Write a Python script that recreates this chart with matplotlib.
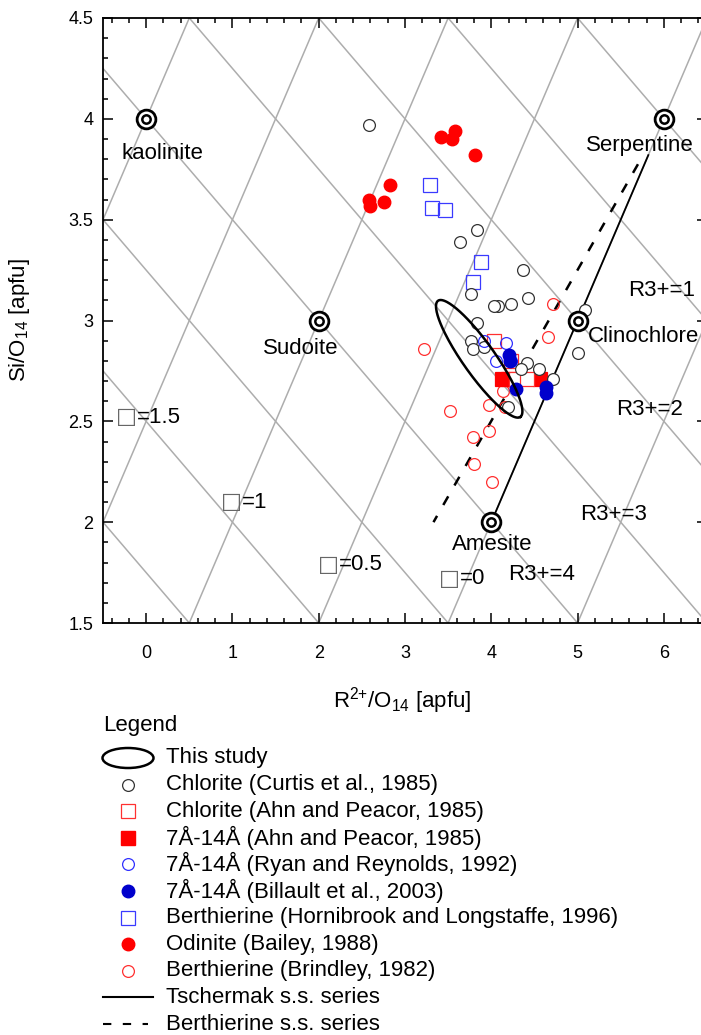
import numpy as np
import matplotlib
matplotlib.use("Agg")
import matplotlib.pyplot as plt
from matplotlib.patches import Ellipse
from matplotlib.ticker import MultipleLocator, FormatStrFormatter

plt.rcParams['font.family'] = ['Liberation Sans', 'DejaVu Sans']
plt.rcParams['mathtext.default'] = 'regular'

# ---- data (R2+/O14, Si/O14) ----
curtis_x = [2.58, 3.84, 3.64, 4.37, 4.43, 4.23, 4.08, 4.03, 3.76, 5.09,
            5.01, 3.84, 3.76, 3.79, 3.92, 4.41, 4.55, 4.72, 4.19, 4.35]
curtis_y = [3.97, 3.45, 3.39, 3.25, 3.11, 3.08, 3.07, 3.07, 3.13, 3.05,
            2.84, 2.99, 2.90, 2.86, 2.87, 2.79, 2.76, 2.71, 2.57, 2.76]
ahn_chl_x = [4.03, 4.23, 4.29, 4.41]
ahn_chl_y = [2.90, 2.80, 2.71, 2.71]
ahn_714_x = [4.12, 4.19, 4.56]
ahn_714_y = [2.71, 2.71, 2.71]
ryan_x = [3.91, 4.17, 4.06, 4.23]
ryan_y = [2.90, 2.89, 2.80, 2.80]
billault_x = [4.20, 4.22, 4.29, 4.63, 4.63]
billault_y = [2.83, 2.80, 2.66, 2.67, 2.64]
hornibrook_x = [3.29, 3.31, 3.46, 3.88, 3.79]
hornibrook_y = [3.67, 3.56, 3.55, 3.29, 3.19]
odinite_x = [3.42, 3.54, 3.58, 3.81, 2.585, 2.60, 2.76, 2.83]
odinite_y = [3.91, 3.90, 3.94, 3.82, 3.60, 3.57, 3.59, 3.67]
brindley_x = [3.22, 4.71, 4.66, 3.52, 3.97, 4.16, 4.13, 3.79, 3.97, 3.80, 4.01]
brindley_y = [2.86, 3.08, 2.92, 2.55, 2.58, 2.57, 2.65, 2.42, 2.45, 2.29, 2.20]

# end members
em_names = ['kaolinite', 'Sudoite', 'Serpentine', 'Clinochlore', 'Amesite']
em_x = [0, 2, 6, 5, 4]
em_y = [4, 3, 4, 3, 2]
em_label_x = [0.19, 1.79, 5.72, 5.76, 4.01]
em_label_y = [3.83, 2.86, 3.87, 2.92, 1.89]

# reference line families
r3_levels = [-1, 0, 1, 2, 3, 4, 5, 6, 7]          # Si = 7 - 0.75 R3 - 0.5 R2
vac_levels = [-0.5, 0, 0.5, 1, 1.5, 2]            # Si = R2 - 2 + 3 vac
r3_labels = ['R3+=1', 'R3+=2', 'R3+=3', 'R3+=4']
r3_label_x = [5.97, 5.84, 5.42, 4.58]
r3_label_y = [3.15, 2.56, 2.04, 1.74]
vac_labels = ['=1.5', '=1', '=0.5', '=0']
vac_label_x = [-0.105, 1.105, 2.23, 3.64]
vac_label_y = [2.52, 2.10, 1.79, 1.72]

# series lines
tsch_x = [5.82, 4.0]
tsch_y = [3.82, 2.0]
berth_x = [5.70, 3.33]
berth_y = [3.775, 2.0]

# this study ellipse
ell_c = (3.86, 2.81)
ell_u = (0.477, -0.288)
ell_v = (-0.152, -0.046)

W, H = 701, 1035
fig = plt.figure(figsize=(W / 100, H / 100), dpi=100)
ax = fig.add_axes([103 / W, 1 - 623 / H, 604 / W, 605 / H])

xs = np.array([-0.5, 6.5])
for r in r3_levels:
    ax.plot(xs, 7 - 0.75 * r - 0.5 * xs, color='#adadad', lw=1.1, zorder=1)
for v in vac_levels:
    ax.plot(xs, xs - 2 + 3 * v, color='#adadad', lw=1.1, zorder=1)

ax.plot(tsch_x, tsch_y, color='black', lw=1.3, zorder=2)
ax.plot(berth_x, berth_y, color='black', lw=1.8, dashes=(4, 5), zorder=2)

ms_c = 8.5
ax.plot(brindley_x, brindley_y, 'o', ms=ms_c, mfc='none', mec='#ff3030', mew=0.9, zorder=3)
ax.plot(hornibrook_x, hornibrook_y, 's', ms=10.5, mfc='none', mec='#3a3aff', mew=0.9, zorder=3)
ax.plot(ahn_714_x, ahn_714_y, 's', ms=10.5, mfc='#ff0000', mec='#ff0000', mew=0.9, zorder=3)
ax.plot(ahn_chl_x, ahn_chl_y, 's', ms=10.5, mfc='white', mec='#ff3030', mew=0.9, zorder=3)
ax.plot(curtis_x, curtis_y, 'o', ms=ms_c, mfc='white', mec='#333333', mew=0.9, zorder=3)
ax.plot(ryan_x, ryan_y, 'o', ms=ms_c, mfc='none', mec='#3030ff', mew=0.9, zorder=3)
ax.plot(billault_x, billault_y, 'o', ms=9, mfc='#0000cc', mec='#0000cc', zorder=3)
ax.plot(odinite_x, odinite_y, 'o', ms=9, mfc='#ff0000', mec='#ff0000', zorder=3)

t = np.linspace(0, 2 * np.pi, 200)
ax.plot(ell_c[0] + ell_u[0] * np.cos(t) + ell_v[0] * np.sin(t),
        ell_c[1] + ell_u[1] * np.cos(t) + ell_v[1] * np.sin(t),
        color='black', lw=1.8, zorder=5)

ax.plot(em_x, em_y, 'o', ms=13.5, mfc='white', mec='black', mew=2.0, ls='none', zorder=6)
ax.plot(em_x, em_y, 'o', ms=6, mfc='white', mec='black', mew=1.8, ls='none', zorder=7)

fs = 16
for name, lx, ly in zip(em_names, em_label_x, em_label_y):
    ax.text(lx, ly, name, fontsize=fs, ha='center', va='center', zorder=8)
for lab, lx, ly in zip(r3_labels, r3_label_x, r3_label_y):
    ax.text(lx, ly, lab, fontsize=fs, ha='center', va='center', zorder=8)
for lab, lx, ly in zip(vac_labels, vac_label_x, vac_label_y):
    ax.text(lx, ly, '\u25a1', fontsize=fs, ha='right', va='center', color='#666666',
            family=['DejaVu Sans'], zorder=8)
    ax.text(lx, ly, lab, fontsize=fs, ha='left', va='center', zorder=8)

ax.set_xlim(-0.5, 6.5)
ax.set_ylim(1.5, 4.5)
ax.xaxis.set_major_locator(MultipleLocator(1))
ax.xaxis.set_minor_locator(MultipleLocator(0.2))
ax.yaxis.set_major_locator(MultipleLocator(0.5))
ax.yaxis.set_minor_locator(MultipleLocator(0.1))
ax.yaxis.set_major_formatter(FormatStrFormatter('%g'))
ax.tick_params(which='both', direction='in', top=True, right=True, width=1.1, labelsize=13)
ax.tick_params(which='major', length=7)
ax.tick_params(which='minor', length=3.5)
ax.tick_params(axis='x', pad=16)
ax.tick_params(axis='y', pad=7)
for s in ax.spines.values():
    s.set_linewidth(1.3)

ax.set_xlabel('R$^{2{+}}$/O$_{14}$ [apfu]', fontsize=fs)
ax.xaxis.set_label_coords(0.495, -0.102)
ax.set_ylabel('Si/O$_{14}$ [apfu]', fontsize=fs)
ax.yaxis.set_label_coords(-0.118, 0.5)

# ---- legend drawn in pixel space ----
lg = fig.add_axes([0, 0, 1, 1], zorder=-1)
lg.set_xlim(0, W)
lg.set_ylim(H, 0)
lg.axis('off')

leg_labels = ['This study', 'Chlorite (Curtis et al., 1985)', 'Chlorite (Ahn and Peacor, 1985)',
              '7\u00c5-14\u00c5 (Ahn and Peacor, 1985)', '7\u00c5-14\u00c5 (Ryan and Reynolds, 1992)',
              '7\u00c5-14\u00c5 (Billault et al., 2003)',
              'Berthierine (Hornibrook and Longstaffe, 1996)', 'Odinite (Bailey, 1988)',
              'Berthierine (Brindley, 1982)', 'Tschermak s.s. series', 'Berthierine s.s. series']
row0, dy = 758, 26.6
mx, tx = 128, 166

lg.text(103, 725, 'Legend', fontsize=fs, ha='left', va='center')
for i, lab in enumerate(leg_labels):
    lg.text(tx, row0 + i * dy, lab, fontsize=fs, ha='left', va='center')

rows = [row0 + i * dy for i in range(len(leg_labels))]
lg.add_patch(Ellipse((mx, rows[0]), 51, 20, fill=False, ec='black', lw=1.8))
lg.plot([mx], [rows[1]], 'o', ms=ms_c, mfc='white', mec='#333333', mew=0.9)
lg.plot([mx], [rows[2]], 's', ms=10.5, mfc='none', mec='#ff3030', mew=0.9)
lg.plot([mx], [rows[3]], 's', ms=10.5, mfc='#ff0000', mec='#ff0000')
lg.plot([mx], [rows[4]], 'o', ms=ms_c, mfc='none', mec='#3030ff', mew=0.9)
lg.plot([mx], [rows[5]], 'o', ms=9, mfc='#0000cc', mec='#0000cc')
lg.plot([mx], [rows[6]], 's', ms=10.5, mfc='none', mec='#3a3aff', mew=0.9)
lg.plot([mx], [rows[7]], 'o', ms=9, mfc='#ff0000', mec='#ff0000')
lg.plot([mx], [rows[8]], 'o', ms=ms_c, mfc='none', mec='#ff3030', mew=0.9)
lg.plot([103, 153], [rows[9], rows[9]], color='black', lw=1.5)
lg.plot([103, 148], [rows[10], rows[10]], color='black', lw=1.5, dashes=(4, 5.5))

fig.savefig('out.png', dpi=100)
